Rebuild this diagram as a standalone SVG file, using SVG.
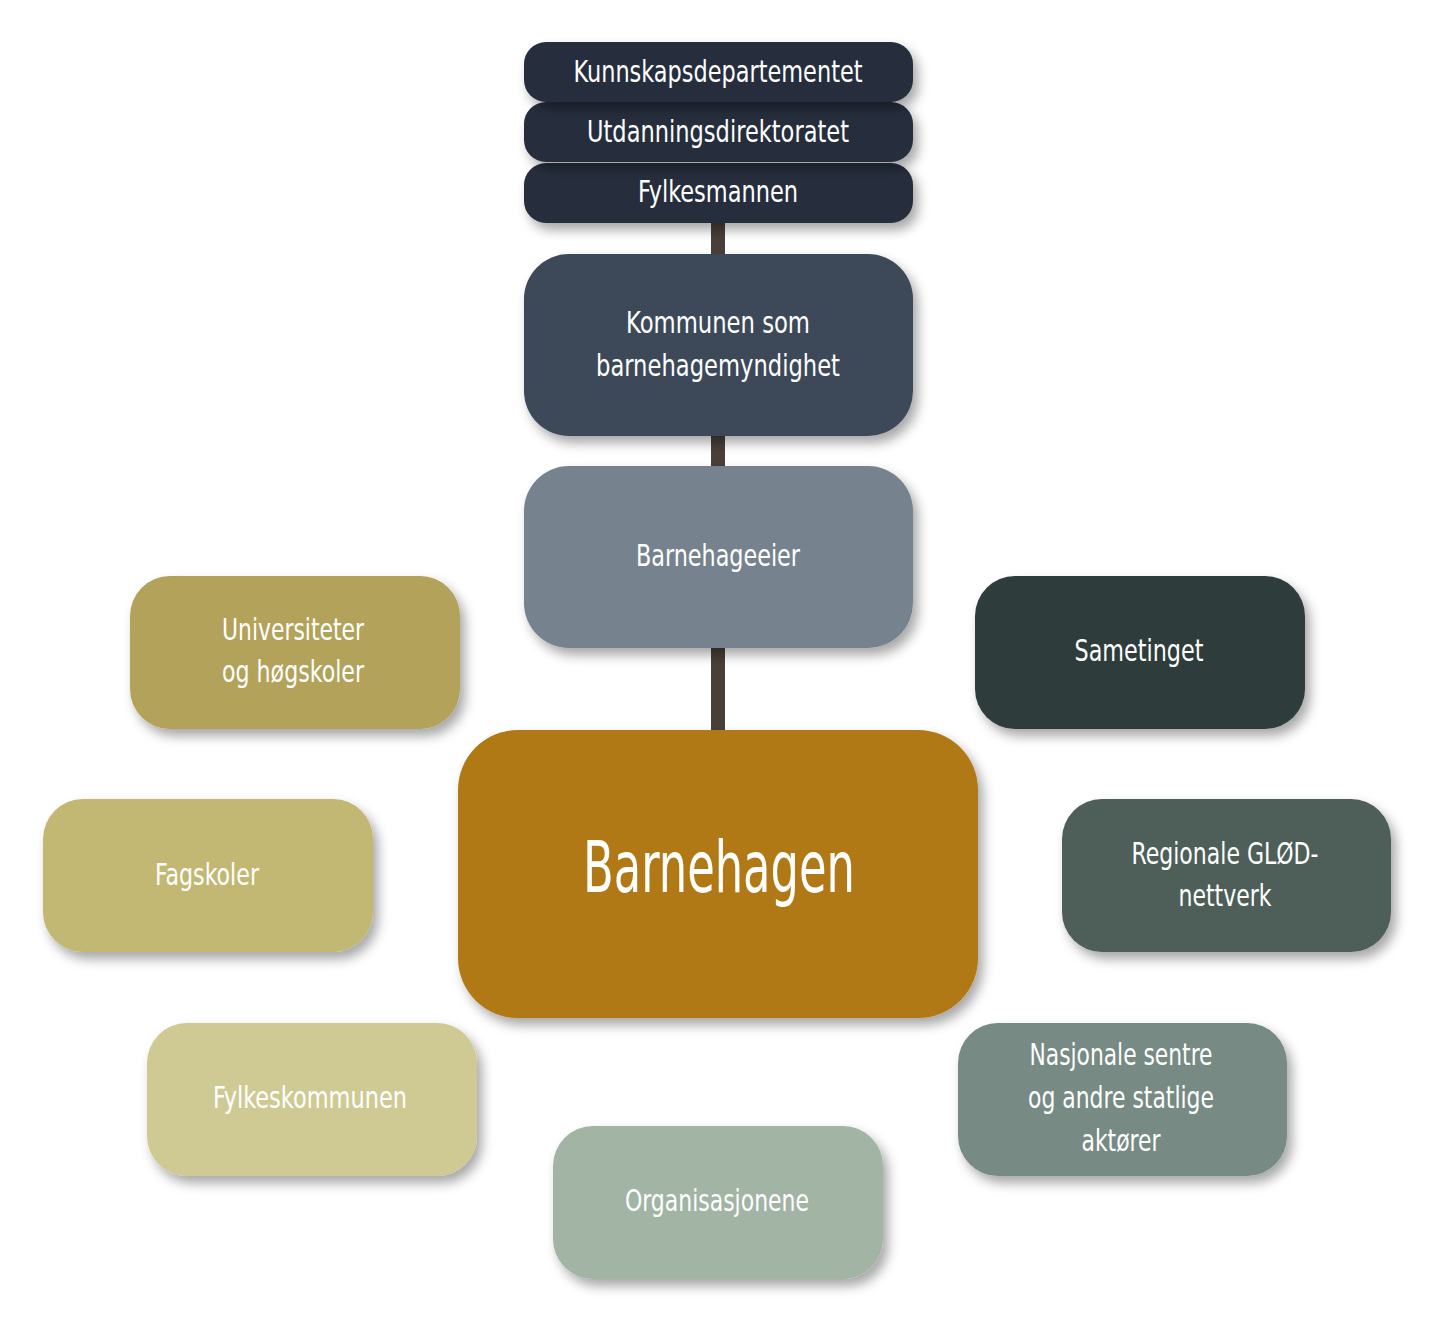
<svg xmlns="http://www.w3.org/2000/svg" width="1444" height="1318" viewBox="0 0 1444 1318">
<defs>
<filter id="sh" x="-20%" y="-20%" width="140%" height="150%">
<feDropShadow dx="5" dy="7" stdDeviation="6" flood-color="#000" flood-opacity="0.35"/>
</filter>
</defs>
<style>
text{font-family:"Liberation Sans Narrow","DejaVu Sans Condensed","Roboto Condensed",sans-serif;font-stretch:condensed;fill:#fff;text-anchor:middle;font-size:31px}
.big{font-size:72px}
.box{filter:url(#sh)}
</style>
<rect width="1444" height="1318" fill="#fff"/>
<g id="connectors">
<line x1="718" y1="215" x2="718" y2="740" stroke="#483f38" stroke-width="14"/>
</g>
<g id="fylkesmannen">
<rect class="box" x="524" y="163" width="389" height="60" rx="22" fill="#252e3e"/>
<text x="718" y="202" textLength="160" lengthAdjust="spacingAndGlyphs">Fylkesmannen</text>
</g>
<g id="utdanningsdirektoratet">
<rect class="box" x="524" y="102" width="389" height="60" rx="22" fill="#252e3e"/>
<text x="718" y="142" textLength="262" lengthAdjust="spacingAndGlyphs">Utdanningsdirektoratet</text>
</g>
<g id="kunnskapsdepartementet">
<rect class="box" x="524" y="42" width="389" height="60" rx="22" fill="#252e3e"/>
<text x="718" y="82" textLength="289" lengthAdjust="spacingAndGlyphs">Kunnskapsdepartementet</text>
</g>
<g id="kommunen">
<rect class="box" x="524" y="254" width="389" height="182" rx="45" fill="#3d4858"/>
<text x="718" y="333" textLength="184" lengthAdjust="spacingAndGlyphs">Kommunen som</text>
<text x="718" y="376" textLength="244" lengthAdjust="spacingAndGlyphs">barnehagemyndighet</text>
</g>
<g id="barnehageeier">
<rect class="box" x="524" y="466" width="389" height="182" rx="45" fill="#76838e"/>
<text x="718" y="566" textLength="164" lengthAdjust="spacingAndGlyphs">Barnehageeier</text>
</g>
<g id="barnehagen">
<rect class="box" x="458" y="730" width="520" height="288" rx="60" fill="#b07914"/>
<text class="big" x="719" y="892" textLength="272" lengthAdjust="spacingAndGlyphs">Barnehagen</text>
</g>
<g id="universiteter">
<rect class="box" x="130" y="576" width="330" height="153" rx="40" fill="#b3a25a"/>
<text x="293" y="640" textLength="142" lengthAdjust="spacingAndGlyphs">Universiteter</text>
<text x="293" y="682" textLength="142" lengthAdjust="spacingAndGlyphs">og høgskoler</text>
</g>
<g id="fagskoler">
<rect class="box" x="43" y="799" width="330" height="153" rx="40" fill="#c3b873"/>
<text x="207" y="885" textLength="104" lengthAdjust="spacingAndGlyphs">Fagskoler</text>
</g>
<g id="fylkeskommunen">
<rect class="box" x="147" y="1023" width="330" height="153" rx="40" fill="#cfca93"/>
<text x="310" y="1108" textLength="194" lengthAdjust="spacingAndGlyphs">Fylkeskommunen</text>
</g>
<g id="organisasjonene">
<rect class="box" x="553" y="1126" width="330" height="153" rx="40" fill="#a2b4a4"/>
<text x="717" y="1211" textLength="184" lengthAdjust="spacingAndGlyphs">Organisasjonene</text>
</g>
<g id="nasjonale">
<rect class="box" x="958" y="1023" width="329" height="153" rx="40" fill="#778a84"/>
<text x="1121" y="1065" textLength="183" lengthAdjust="spacingAndGlyphs">Nasjonale sentre</text>
<text x="1121" y="1108" textLength="186" lengthAdjust="spacingAndGlyphs">og andre statlige</text>
<text x="1121" y="1151" textLength="79" lengthAdjust="spacingAndGlyphs">aktører</text>
</g>
<g id="regionale">
<rect class="box" x="1062" y="799" width="329" height="153" rx="40" fill="#4e5e58"/>
<text x="1225" y="864" textLength="187" lengthAdjust="spacingAndGlyphs">Regionale GLØD-</text>
<text x="1225" y="906" textLength="93" lengthAdjust="spacingAndGlyphs">nettverk</text>
</g>
<g id="sametinget">
<rect class="box" x="975" y="576" width="330" height="153" rx="40" fill="#2e3d3a"/>
<text x="1139" y="661" textLength="129" lengthAdjust="spacingAndGlyphs">Sametinget</text>
</g>
</svg>
